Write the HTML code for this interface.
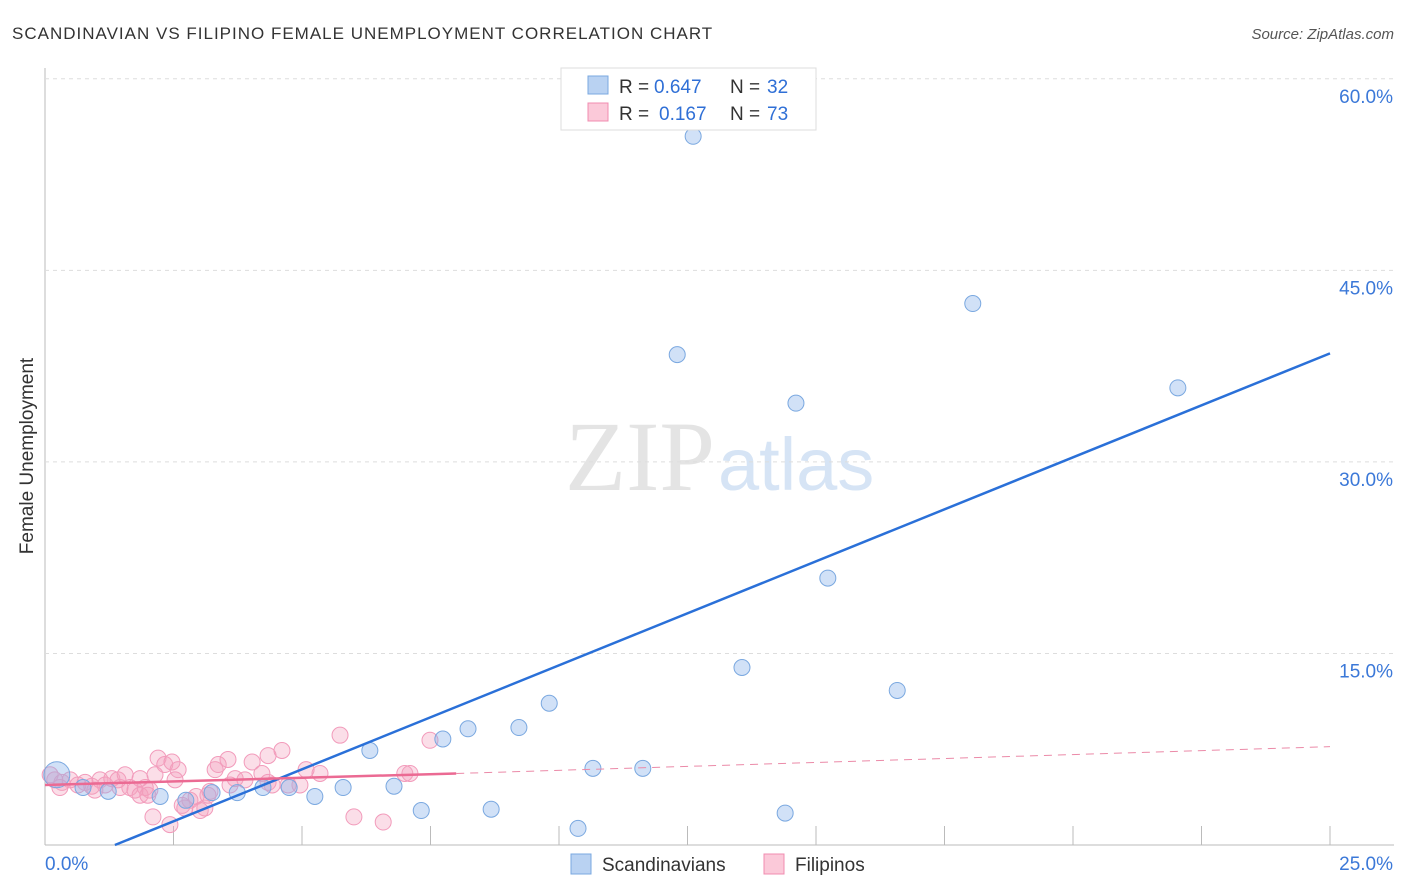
<!DOCTYPE html>
<html><head><meta charset="utf-8">
<style>
body{margin:0;background:#fff;font-family:"Liberation Sans",sans-serif;}
svg{display:block}
</style></head>
<body>
<svg id="chart" width="1406" height="892">
<text x="12" y="39" font-size="17" letter-spacing="1" fill="#333">SCANDINAVIAN VS FILIPINO FEMALE UNEMPLOYMENT CORRELATION CHART</text>
<text x="1394" y="39" font-size="15" fill="#555" font-style="italic" text-anchor="end">Source: ZipAtlas.com</text>
<text x="715" y="490" font-size="100" fill="#e4e4e4" text-anchor="end" font-family="Liberation Serif,serif">ZIP</text>
<text x="718" y="490" font-size="74" fill="#d6e4f5">atlas</text>
<text transform="translate(33,456) rotate(-90)" font-size="19" fill="#333" text-anchor="middle">Female Unemployment</text>
<g id="grid"></g><g id="marks"></g><g id="lines"></g>
<g>
<rect x="561" y="68" width="255" height="62" fill="#fff" stroke="#ddd"/>
<rect x="588" y="76" width="20" height="18" fill="#b9d2f2" stroke="#7aa8e0"/>
<rect x="588" y="103" width="20" height="18" fill="#fbc9d9" stroke="#f08cb0"/>
<text x="619" y="93" font-size="19" fill="#333">R =</text>
<text x="654" y="93" font-size="19" fill="#2f6fd6">0.647</text>
<text x="730" y="93" font-size="19" fill="#333">N =</text>
<text x="767" y="93" font-size="19" fill="#2f6fd6">32</text>
<text x="619" y="120" font-size="19" fill="#333">R =</text>
<text x="659" y="120" font-size="19" fill="#2f6fd6">0.167</text>
<text x="730" y="120" font-size="19" fill="#333">N =</text>
<text x="767" y="120" font-size="19" fill="#2f6fd6">73</text>
</g>
<g>
<rect x="571" y="854" width="20" height="20" fill="#b9d2f2" stroke="#7aa8e0"/>
<text x="602" y="871" font-size="19" fill="#333">Scandinavians</text>
<rect x="764" y="854" width="20" height="20" fill="#fbc9d9" stroke="#f08cb0"/>
<text x="795" y="871" font-size="19" fill="#333">Filipinos</text>
</g>
</svg>
<script>
const yTicks=[15,30,45,60];
const yTickLabels=["15.0%","30.0%","45.0%","60.0%"];
const xTicks=[2.5,5,7.5,10,12.5,15,17.5,20,22.5,25];
const blueX=[0.23,0.74,1.23,2.24,2.74,3.25,3.74,4.24,4.75,5.25,5.80,6.32,6.79,7.32,7.74,8.23,8.68,9.22,9.81,10.37,10.66,11.63,12.30,12.61,13.56,14.40,14.61,15.23,16.58,18.05,22.04];
const blueY=[5.5,4.5,4.2,3.8,3.5,4.1,4.1,4.5,4.5,3.8,4.5,7.4,4.6,2.7,8.3,9.1,2.8,9.2,11.1,1.3,6.0,6.0,38.4,55.5,13.9,2.5,34.6,20.9,12.1,42.4,35.8];
const pinkX=[0.10,0.19,0.33,0.49,0.64,0.78,0.91,1.07,1.17,1.30,1.42,1.56,1.65,1.75,1.85,1.95,2.04,2.14,2.20,2.33,2.47,2.59,2.67,2.82,2.94,3.02,3.11,3.21,3.31,3.37,3.56,3.70,3.89,4.03,4.22,4.34,4.42,4.61,4.96,5.08,5.35,5.74,6.01,6.58,7.00,7.10,7.49,2.10,2.43,2.72,0.29,0.97,1.46,1.85,3.17,4.34,4.73,3.60,2.53,2.00];
const pinkY=[5.5,5.1,4.9,5.1,4.7,4.9,4.6,5.1,4.7,5.2,5.1,5.5,4.5,4.3,3.9,4.5,4.3,5.5,6.8,6.3,6.5,5.9,3.1,3.5,3.8,2.7,2.9,4.2,5.9,6.3,6.7,5.2,5.1,6.5,5.6,7.0,4.7,7.4,4.7,5.9,5.6,8.6,2.2,1.8,5.6,5.6,8.2,2.2,1.6,2.9,4.5,4.3,4.5,5.2,3.9,4.9,4.7,4.7,5.1,3.9];
const blueLine=[[1.36,0],[25,38.5]];
const pinkSolid=[[0,4.7],[8.0,5.6]];
const pinkDash=[[8.0,5.6],[25,7.7]];
const X=v=>45+v*51.4, Y=v=>845-v*12.77;
const NS="http://www.w3.org/2000/svg";
function mk(tag,attrs,parent){const e=document.createElementNS(NS,tag);for(const k in attrs)e.setAttribute(k,attrs[k]);document.getElementById(parent).appendChild(e);return e;}
let e;
e=mk('line',{x1:45,y1:68,x2:45,y2:845,stroke:'#bbb'},'grid');


e=mk('line',{x1:45,y1:845,x2:1394,y2:845,stroke:'#bbb'},'grid');


yTicks.forEach((t,i)=>{
 e=mk('line',{x1:45,y1:Y(t),x2:1394,y2:Y(t),stroke:'#ddd','stroke-dasharray':'4,4'},'grid');
 
 
 e=mk('text',{x:1393,y:Y(t)+24,'font-size':19,fill:'#3b78d8','text-anchor':'end'},'grid');
 e.textContent=yTickLabels[i];
 
 
});
xTicks.forEach(t=>{
 e=mk('line',{x1:X(t),y1:826,x2:X(t),y2:845,stroke:'#bbb'},'grid');
 
 
});
e=mk('text',{x:45,y:870,'font-size':19,fill:'#3b78d8'},'grid');e.textContent='0.0%';


e=mk('text',{x:1393,y:870,'font-size':19,fill:'#3b78d8','text-anchor':'end'},'grid');e.textContent='25.0%';


pinkX.forEach((x,i)=>{
 e=mk('circle',{cx:X(x),cy:Y(pinkY[i]),r:8,fill:'rgba(243,160,188,0.35)',stroke:'#f29bbb','stroke-width':1},'marks');
 
 
});
blueX.forEach((x,i)=>{
 e=mk('circle',{cx:X(x),cy:Y(blueY[i]),r:i===0?13:8,fill:'rgba(140,180,235,0.4)',stroke:'#7aa8e0','stroke-width':1},'marks');
 
 
});
e=mk('line',{x1:X(blueLine[0][0]),y1:Y(blueLine[0][1]),x2:X(blueLine[1][0]),y2:Y(blueLine[1][1]),stroke:'#2a70d8','stroke-width':2.5},'lines');


e=mk('line',{x1:X(pinkSolid[0][0]),y1:Y(pinkSolid[0][1]),x2:X(pinkSolid[1][0]),y2:Y(pinkSolid[1][1]),stroke:'#eb6a93','stroke-width':2.5},'lines');


e=mk('line',{x1:X(pinkDash[0][0]),y1:Y(pinkDash[0][1]),x2:X(pinkDash[1][0]),y2:Y(pinkDash[1][1]),stroke:'#eb8aa8','stroke-width':1,'stroke-dasharray':'8,6'},'lines');


</script>
</body></html>
